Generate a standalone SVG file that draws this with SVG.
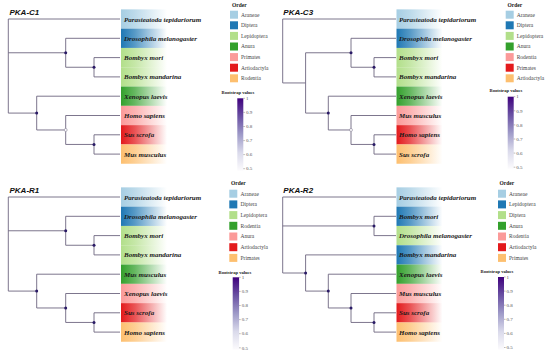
<svg xmlns="http://www.w3.org/2000/svg" width="550" height="358" viewBox="0 0 550 358">
<style>
.tip{font-family:"Liberation Serif",serif;font-style:italic;font-weight:bold;font-size:7px;fill:#1a1a1a}
.ttl{font-family:"Liberation Sans",sans-serif;font-style:italic;font-weight:bold;font-size:8px;fill:#111}
.lgt{font-family:"Liberation Serif",serif;font-weight:bold;font-size:5.5px;fill:#222}
.lgl{font-family:"Liberation Serif",serif;font-size:5.5px;fill:#444}
.cbt{font-family:"Liberation Serif",serif;font-weight:bold;font-size:4.6px;fill:#222}
.cbl{font-family:"Liberation Serif",serif;font-size:5px;fill:#555}
.br{fill:none;stroke:#6e6680;stroke-width:0.9}
.dot{fill:#2a1a66}
.odot{fill:#fff;stroke:#8a8498;stroke-width:0.6}
.tk{stroke:#777;stroke-width:0.5}
</style>
<defs>
<linearGradient id="g1"><stop offset="0" stop-color="#a6cee3"/><stop offset="0.3" stop-color="#a6cee3" stop-opacity="0.75"/><stop offset="1" stop-color="#a6cee3" stop-opacity="0"/></linearGradient>
<linearGradient id="g2"><stop offset="0" stop-color="#1f78b4"/><stop offset="0.3" stop-color="#1f78b4" stop-opacity="0.75"/><stop offset="1" stop-color="#1f78b4" stop-opacity="0"/></linearGradient>
<linearGradient id="g3"><stop offset="0" stop-color="#b2df8a"/><stop offset="0.3" stop-color="#b2df8a" stop-opacity="0.75"/><stop offset="1" stop-color="#b2df8a" stop-opacity="0"/></linearGradient>
<linearGradient id="g4"><stop offset="0" stop-color="#33a02c"/><stop offset="0.3" stop-color="#33a02c" stop-opacity="0.75"/><stop offset="1" stop-color="#33a02c" stop-opacity="0"/></linearGradient>
<linearGradient id="g5"><stop offset="0" stop-color="#fb9a99"/><stop offset="0.3" stop-color="#fb9a99" stop-opacity="0.75"/><stop offset="1" stop-color="#fb9a99" stop-opacity="0"/></linearGradient>
<linearGradient id="g6"><stop offset="0" stop-color="#e31a1c"/><stop offset="0.3" stop-color="#e31a1c" stop-opacity="0.75"/><stop offset="1" stop-color="#e31a1c" stop-opacity="0"/></linearGradient>
<linearGradient id="g7"><stop offset="0" stop-color="#fdbf6f"/><stop offset="0.3" stop-color="#fdbf6f" stop-opacity="0.75"/><stop offset="1" stop-color="#fdbf6f" stop-opacity="0"/></linearGradient>
<linearGradient id="cb" x1="0" y1="0" x2="0" y2="1"><stop offset="0" stop-color="#3f007d"/><stop offset="0.25" stop-color="#6a51a3"/><stop offset="0.5" stop-color="#9e9ac8"/><stop offset="0.75" stop-color="#dadaeb"/><stop offset="1" stop-color="#fcfbfd"/></linearGradient>
</defs>
<rect width="550" height="358" fill="#fff"/>

<!-- ===== Panel PKA-C1 ===== -->
<g id="panel-c1">
<text class="ttl" x="9.5" y="15">PKA-C1</text>
<g id="c1-connectors">
<path class="br" d="M8.3 19V113.09M8.3 19H120M8.3 52.78H65.7M8.3 113.09H36.7M65.7 38.3V67.25M65.7 38.3H120M65.7 67.25H94M94 57.6V76.9M94 57.6H120M94 76.9H120M36.7 96.2V129.98M36.7 96.2H120M36.7 129.98H65.7M65.7 115.5V144.45M65.7 115.5H120M65.7 144.45H94M94 134.8V154.1M94 134.8H120M94 154.1H120"/>
</g>
<g id="c1-n-a"><circle class="dot" cx="65.7" cy="52.78" r="1.5"/></g>
<g id="c1-n-bombyx"><circle class="dot" cx="94" cy="67.25" r="1.5"/></g>
<g id="c1-n-b"><circle class="dot" cx="36.7" cy="113.09" r="1.5"/></g>
<g id="c1-n-c"><circle class="odot" cx="65.7" cy="129.98" r="1.5"/></g>
<g id="c1-n-sm"><circle class="dot" cx="94" cy="144.45" r="1.5"/></g>
<g id="c1-t1"><rect x="121" y="9.35" width="46" height="19.3" fill="url(#g1)"/><text class="tip" x="124" y="21.5">Parasteatoda tepidariorum</text></g>
<g id="c1-t2"><rect x="121" y="28.65" width="46" height="19.3" fill="url(#g2)"/><text class="tip" x="124" y="40.8">Drosophila melanogaster</text></g>
<g id="c1-t3"><rect x="121" y="47.95" width="46" height="19.3" fill="url(#g3)"/><text class="tip" x="124" y="60.1">Bombyx mori</text></g>
<g id="c1-t4"><rect x="121" y="67.25" width="46" height="19.3" fill="url(#g3)"/><text class="tip" x="124" y="79.4">Bombyx mandarina</text></g>
<g id="c1-t5"><rect x="121" y="86.55" width="46" height="19.3" fill="url(#g4)"/><text class="tip" x="124" y="98.7">Xenopus laevis</text></g>
<g id="c1-t6"><rect x="121" y="105.85" width="46" height="19.3" fill="url(#g5)"/><text class="tip" x="124" y="118">Homo sapiens</text></g>
<g id="c1-t7"><rect x="121" y="125.15" width="46" height="19.3" fill="url(#g6)"/><text class="tip" x="124" y="137.3">Sus scrofa</text></g>
<g id="c1-t8"><rect x="121" y="144.45" width="46" height="19.3" fill="url(#g7)"/><text class="tip" x="124" y="156.6">Mus musculus</text></g>
<g id="c1-legend">
<text class="lgt" x="232" y="7">Order</text>
<rect x="230" y="10.7" width="8" height="8" fill="#a6cee3"/><text class="lgl" x="241" y="16.6">Araneae</text>
<rect x="230" y="21.3" width="8" height="8" fill="#1f78b4"/><text class="lgl" x="241" y="27.2">Diptera</text>
<rect x="230" y="31.9" width="8" height="8" fill="#b2df8a"/><text class="lgl" x="241" y="37.8">Lepidoptera</text>
<rect x="230" y="42.5" width="8" height="8" fill="#33a02c"/><text class="lgl" x="241" y="48.4">Anura</text>
<rect x="230" y="53.1" width="8" height="8" fill="#fb9a99"/><text class="lgl" x="241" y="59">Primates</text>
<rect x="230" y="63.7" width="8" height="8" fill="#e31a1c"/><text class="lgl" x="241" y="69.6">Artiodactyla</text>
<rect x="230" y="74.3" width="8" height="8" fill="#fdbf6f"/><text class="lgl" x="241" y="80.2">Rodentia</text>
</g>
<g id="c1-colorbar">
<text class="cbt" x="238" y="94" text-anchor="middle">Bootstrap values</text>
<rect x="237.3" y="98.3" width="6" height="72.4" fill="url(#cb)"/>
<path class="tk" d="M243.3 98.3h1.6M243.3 112.4h1.6M243.3 126.5h1.6M243.3 140.6h1.6M243.3 154.6h1.6M243.3 168.7h1.6"/>
<text class="cbl" x="246" y="100">1</text><text class="cbl" x="246" y="114.1">0.9</text><text class="cbl" x="246" y="128.2">0.8</text><text class="cbl" x="246" y="142.3">0.7</text><text class="cbl" x="246" y="156.3">0.6</text><text class="cbl" x="246" y="170.4">0.5</text>
</g>
</g>

<!-- ===== Panel PKA-C3 ===== -->
<g id="panel-c3">
<text class="ttl" x="283.3" y="15">PKA-C3</text>
<g id="c3-connectors">
<path class="br" d="M282.7 19V82.94M282.7 19H396M282.7 82.94H305.6M305.6 52.78V113.09M305.6 52.78H351M305.6 113.09H328.3M351 38.3V67.25M351 38.3H396M351 67.25H374M374 57.6V76.9M374 57.6H396M374 76.9H396M328.3 96.2V129.98M328.3 96.2H396M328.3 129.98H351M351 115.5V144.45M351 115.5H396M351 144.45H374M374 134.8V154.1M374 134.8H396M374 154.1H396"/>
</g>
<g id="c3-n-a"><circle class="dot" cx="351" cy="52.78" r="1.5"/></g>
<g id="c3-n-bombyx"><circle class="dot" cx="374" cy="67.25" r="1.5"/></g>
<g id="c3-n-b"><circle class="dot" cx="328.3" cy="113.09" r="1.5"/></g>
<g id="c3-n-c"><circle class="odot" cx="351" cy="129.98" r="1.5"/></g>
<g id="c3-n-hs"><circle class="dot" cx="374" cy="144.45" r="1.5"/></g>
<g id="c3-t1"><rect x="396.5" y="9.35" width="46" height="19.3" fill="url(#g1)"/><text class="tip" x="399" y="21.5">Parasteatoda tepidariorum</text></g>
<g id="c3-t2"><rect x="396.5" y="28.65" width="46" height="19.3" fill="url(#g2)"/><text class="tip" x="399" y="40.8">Drosophila melanogaster</text></g>
<g id="c3-t3"><rect x="396.5" y="47.95" width="46" height="19.3" fill="url(#g3)"/><text class="tip" x="399" y="60.1">Bombyx mori</text></g>
<g id="c3-t4"><rect x="396.5" y="67.25" width="46" height="19.3" fill="url(#g3)"/><text class="tip" x="399" y="79.4">Bombyx mandarina</text></g>
<g id="c3-t5"><rect x="396.5" y="86.55" width="46" height="19.3" fill="url(#g4)"/><text class="tip" x="399" y="98.7">Xenopus laevis</text></g>
<g id="c3-t6"><rect x="396.5" y="105.85" width="46" height="19.3" fill="url(#g5)"/><text class="tip" x="399" y="118">Mus musculus</text></g>
<g id="c3-t7"><rect x="396.5" y="125.15" width="46" height="19.3" fill="url(#g6)"/><text class="tip" x="399" y="137.3">Homo sapiens</text></g>
<g id="c3-t8"><rect x="396.5" y="144.45" width="46" height="19.3" fill="url(#g7)"/><text class="tip" x="399" y="156.6">Sus scrofa</text></g>
<g id="c3-legend">
<text class="lgt" x="507.5" y="7">Order</text>
<rect x="505.7" y="10.7" width="8" height="8" fill="#a6cee3"/><text class="lgl" x="516.7" y="16.6">Araneae</text>
<rect x="505.7" y="21.3" width="8" height="8" fill="#1f78b4"/><text class="lgl" x="516.7" y="27.2">Diptera</text>
<rect x="505.7" y="31.9" width="8" height="8" fill="#b2df8a"/><text class="lgl" x="516.7" y="37.8">Lepidoptera</text>
<rect x="505.7" y="42.5" width="8" height="8" fill="#33a02c"/><text class="lgl" x="516.7" y="48.4">Anura</text>
<rect x="505.7" y="53.1" width="8" height="8" fill="#fb9a99"/><text class="lgl" x="516.7" y="59">Rodentia</text>
<rect x="505.7" y="63.7" width="8" height="8" fill="#e31a1c"/><text class="lgl" x="516.7" y="69.6">Primates</text>
<rect x="505.7" y="74.3" width="8" height="8" fill="#fdbf6f"/><text class="lgl" x="516.7" y="80.2">Artiodactyla</text>
</g>
<g id="c3-colorbar">
<text class="cbt" x="506" y="92" text-anchor="middle">Bootstrap values</text>
<rect x="507.7" y="96.7" width="6" height="72" fill="url(#cb)"/>
<path class="tk" d="M513.7 96.7h1.6M513.7 110.8h1.6M513.7 124.9h1.6M513.7 139h1.6M513.7 153.1h1.6M513.7 167.2h1.6"/>
<text class="cbl" x="516.3" y="98.4">1</text><text class="cbl" x="516.3" y="112.5">0.9</text><text class="cbl" x="516.3" y="126.6">0.8</text><text class="cbl" x="516.3" y="140.7">0.7</text><text class="cbl" x="516.3" y="154.8">0.6</text><text class="cbl" x="516.3" y="168.9">0.5</text>
</g>
</g>

<!-- ===== Panel PKA-R1 ===== -->
<g id="panel-r1">
<text class="ttl" x="9.5" y="193">PKA-R1</text>
<g id="r1-connectors">
<path class="br" d="M8.3 197V291.09M8.3 197H120M8.3 230.78H65.7M8.3 291.09H36.7M65.7 216.3V245.25M65.7 216.3H120M65.7 245.25H94M94 235.6V254.9M94 235.6H120M94 254.9H120M36.7 274.2V307.98M36.7 274.2H120M36.7 307.98H65.7M65.7 293.5V322.45M65.7 293.5H120M65.7 322.45H94M94 312.8V332.1M94 312.8H120M94 332.1H120"/>
</g>
<g id="r1-n-a"><circle class="dot" cx="65.7" cy="230.78" r="1.5"/></g>
<g id="r1-n-bombyx"><circle class="dot" cx="94" cy="245.25" r="1.5"/></g>
<g id="r1-n-b"><circle class="dot" cx="36.7" cy="291.09" r="1.5"/></g>
<g id="r1-n-c"><circle class="dot" cx="65.7" cy="307.98" r="1.5"/></g>
<g id="r1-n-sh"><circle class="dot" cx="94" cy="322.45" r="1.5"/></g>
<g id="r1-t1"><rect x="121" y="187.35" width="46" height="19.3" fill="url(#g1)"/><text class="tip" x="124" y="199.5">Parasteatoda tepidariorum</text></g>
<g id="r1-t2"><rect x="121" y="206.65" width="46" height="19.3" fill="url(#g2)"/><text class="tip" x="124" y="218.8">Drosophila melanogaster</text></g>
<g id="r1-t3"><rect x="121" y="225.95" width="46" height="19.3" fill="url(#g3)"/><text class="tip" x="124" y="238.1">Bombyx mori</text></g>
<g id="r1-t4"><rect x="121" y="245.25" width="46" height="19.3" fill="url(#g3)"/><text class="tip" x="124" y="257.4">Bombyx mandarina</text></g>
<g id="r1-t5"><rect x="121" y="264.55" width="46" height="19.3" fill="url(#g4)"/><text class="tip" x="124" y="276.7">Mus musculus</text></g>
<g id="r1-t6"><rect x="121" y="283.85" width="46" height="19.3" fill="url(#g5)"/><text class="tip" x="124" y="296">Xenopus laevis</text></g>
<g id="r1-t7"><rect x="121" y="303.15" width="46" height="19.3" fill="url(#g6)"/><text class="tip" x="124" y="315.3">Sus scrofa</text></g>
<g id="r1-t8"><rect x="121" y="322.45" width="46" height="19.3" fill="url(#g7)"/><text class="tip" x="124" y="334.6">Homo sapiens</text></g>
<g id="r1-legend">
<text class="lgt" x="231" y="185.3">Order</text>
<rect x="229.3" y="189.7" width="8" height="8" fill="#a6cee3"/><text class="lgl" x="240.5" y="195.6">Araneae</text>
<rect x="229.3" y="200.4" width="8" height="8" fill="#1f78b4"/><text class="lgl" x="240.5" y="206.3">Diptera</text>
<rect x="229.3" y="211.1" width="8" height="8" fill="#b2df8a"/><text class="lgl" x="240.5" y="217">Lepidoptera</text>
<rect x="229.3" y="221.8" width="8" height="8" fill="#33a02c"/><text class="lgl" x="240.5" y="227.7">Rodentia</text>
<rect x="229.3" y="232.5" width="8" height="8" fill="#fb9a99"/><text class="lgl" x="240.5" y="238.4">Anura</text>
<rect x="229.3" y="243.2" width="8" height="8" fill="#e31a1c"/><text class="lgl" x="240.5" y="249.1">Artiodactyla</text>
<rect x="229.3" y="253.9" width="8" height="8" fill="#fdbf6f"/><text class="lgl" x="240.5" y="259.8">Primates</text>
</g>
<g id="r1-colorbar">
<text class="cbt" x="235" y="274" text-anchor="middle">Bootstrap values</text>
<rect x="232.7" y="277.3" width="6.4" height="72.4" fill="url(#cb)"/>
<path class="tk" d="M239.1 277.3h1.6M239.1 291.4h1.6M239.1 305.5h1.6M239.1 319.6h1.6M239.1 333.7h1.6M239.1 347.8h1.6"/>
<text class="cbl" x="241.8" y="279">1</text><text class="cbl" x="241.8" y="293.1">0.9</text><text class="cbl" x="241.8" y="307.2">0.8</text><text class="cbl" x="241.8" y="321.3">0.7</text><text class="cbl" x="241.8" y="335.4">0.6</text><text class="cbl" x="241.8" y="349.5">0.5</text>
</g>
</g>

<!-- ===== Panel PKA-R2 ===== -->
<g id="panel-r2">
<text class="ttl" x="283.3" y="193">PKA-R2</text>
<g id="r2-connectors">
<path class="br" d="M282.7 197V273M282.7 197H396M282.7 225.95H374M282.7 273H305.6M374 216.3V235.6M374 216.3H396M374 235.6H396M305.6 254.9V291.09M305.6 254.9H396M305.6 291.09H328.3M328.3 274.2V307.98M328.3 274.2H396M328.3 307.98H351M351 293.5V322.45M351 293.5H396M351 322.45H374M374 312.8V332.1M374 312.8H396M374 332.1H396"/>
</g>
<g id="r2-n-bd"><circle class="dot" cx="374" cy="225.95" r="1.5"/></g>
<g id="r2-n-n"><circle class="dot" cx="305.6" cy="273" r="1.5"/></g>
<g id="r2-n-b"><circle class="dot" cx="328.3" cy="291.09" r="1.5"/></g>
<g id="r2-n-c"><circle class="dot" cx="351" cy="307.98" r="1.5"/></g>
<g id="r2-n-sh"><circle class="dot" cx="374" cy="322.45" r="1.5"/></g>
<g id="r2-t1"><rect x="396.5" y="187.35" width="46" height="19.3" fill="url(#g1)"/><text class="tip" x="399" y="199.5">Parasteatoda tepidariorum</text></g>
<g id="r2-t2"><rect x="396.5" y="206.65" width="46" height="19.3" fill="url(#g2)"/><text class="tip" x="399" y="218.8">Bombyx mori</text></g>
<g id="r2-t3"><rect x="396.5" y="225.95" width="46" height="19.3" fill="url(#g3)"/><text class="tip" x="399" y="238.1">Drosophila melanogaster</text></g>
<g id="r2-t4"><rect x="396.5" y="245.25" width="46" height="19.3" fill="url(#g2)"/><text class="tip" x="399" y="257.4">Bombyx mandarina</text></g>
<g id="r2-t5"><rect x="396.5" y="264.55" width="46" height="19.3" fill="url(#g4)"/><text class="tip" x="399" y="276.7">Xenopus laevis</text></g>
<g id="r2-t6"><rect x="396.5" y="283.85" width="46" height="19.3" fill="url(#g5)"/><text class="tip" x="399" y="296">Mus musculus</text></g>
<g id="r2-t7"><rect x="396.5" y="303.15" width="46" height="19.3" fill="url(#g6)"/><text class="tip" x="399" y="315.3">Sus scrofa</text></g>
<g id="r2-t8"><rect x="396.5" y="322.45" width="46" height="19.3" fill="url(#g7)"/><text class="tip" x="399" y="334.6">Homo sapiens</text></g>
<g id="r2-legend">
<text class="lgt" x="499.5" y="185.3">Order</text>
<rect x="498" y="189.7" width="8" height="8" fill="#a6cee3"/><text class="lgl" x="509" y="195.6">Araneae</text>
<rect x="498" y="200.4" width="8" height="8" fill="#1f78b4"/><text class="lgl" x="509" y="206.3">Lepidoptera</text>
<rect x="498" y="211.1" width="8" height="8" fill="#b2df8a"/><text class="lgl" x="509" y="217">Diptera</text>
<rect x="498" y="221.8" width="8" height="8" fill="#33a02c"/><text class="lgl" x="509" y="227.7">Anura</text>
<rect x="498" y="232.5" width="8" height="8" fill="#fb9a99"/><text class="lgl" x="509" y="238.4">Rodentia</text>
<rect x="498" y="243.2" width="8" height="8" fill="#e31a1c"/><text class="lgl" x="509" y="249.1">Artiodactyla</text>
<rect x="498" y="253.9" width="8" height="8" fill="#fdbf6f"/><text class="lgl" x="509" y="259.8">Primates</text>
</g>
<g id="r2-colorbar">
<text class="cbt" x="497" y="273.3" text-anchor="middle">Bootstrap values</text>
<rect x="498" y="277" width="6" height="72.6" fill="url(#cb)"/>
<path class="tk" d="M504 277h1.6M504 291.1h1.6M504 305.2h1.6M504 319.3h1.6M504 333.4h1.6M504 347.5h1.6"/>
<text class="cbl" x="506.6" y="278.7">1</text><text class="cbl" x="506.6" y="292.8">0.9</text><text class="cbl" x="506.6" y="306.9">0.8</text><text class="cbl" x="506.6" y="321">0.7</text><text class="cbl" x="506.6" y="335.1">0.6</text><text class="cbl" x="506.6" y="349.2">0.5</text>
</g>
</g>
</svg>
